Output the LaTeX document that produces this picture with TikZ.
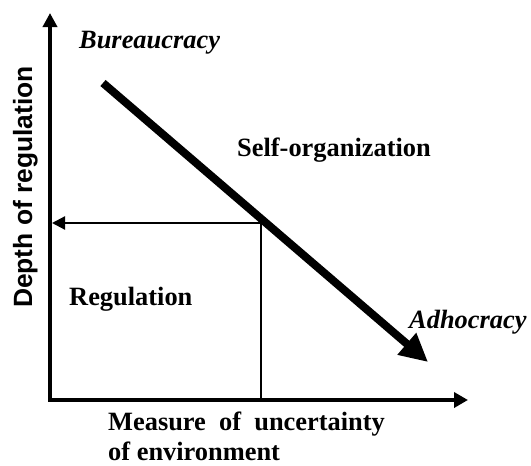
\documentclass[tikz,border=0pt]{standalone}
\usepackage{fontspec}
\setmainfont{Liberation Serif}
\setsansfont{Liberation Sans}
\usetikzlibrary{arrows.meta}
\begin{document}
\begin{tikzpicture}[x=1pt,y=-1pt,
  axisline/.style={line width=4.3pt, line join=miter},
  thinline/.style={line width=2.2pt},
  bigline/.style={line width=8pt},
  lbl/.style={inner sep=0pt, font=\fontsize{26.4}{30}\selectfont\bfseries},
  ilbl/.style={inner sep=0pt, font=\fontsize{26.4}{30}\selectfont\bfseries\itshape},
  slbl/.style={inner sep=0pt, font=\fontsize{26.4}{30}\selectfont\sffamily\bfseries}]
\useasboundingbox (0,0) rectangle (531,466);
% key points
\coordinate (top) at (50,13);
\coordinate (origin) at (50,400);
\coordinate (right) at (468,400);
\coordinate (start) at (103,83);
\coordinate (tip) at (428,362);
\coordinate (cross) at (261,223);
\coordinate (foot) at (261,400);
\coordinate (ltip) at (52,223);
% axes
\draw[axisline, {Triangle[length=14pt,width=14pt]}-{Triangle[length=14pt,width=15pt]}] (top) -- (origin) -- (right);
% thick diagonal
\draw[bigline, -{Triangle[length=28pt,width=27pt]}] (start) -- (tip);
% horizontal arrow and vertical line
\draw[thinline, -{Triangle[length=13pt,width=13pt]}] (cross) -- (ltip);
\draw[thinline] (cross) -- (foot);
% labels
\node[ilbl, anchor=base west] (bur) at (79,48) {Bureaucracy};
\node[lbl, anchor=base west] (self) at (237,156) {Self-organization};
\node[lbl, anchor=base west] (reg) at (69,305) {Regulation};
\node[ilbl, anchor=base west] (adh) at (409,328) {Adhocracy};
\node[lbl, anchor=base west, align=left] (meas) at (108,460) {Measure\ \ of\ \ uncertainty\\of environment};
\node[slbl, rotate=90, anchor=base] (depth) at (32,187) {Depth of regulation};
\end{tikzpicture}
\end{document}
